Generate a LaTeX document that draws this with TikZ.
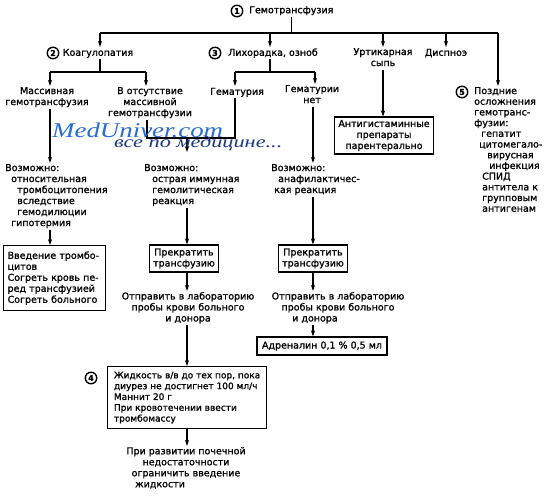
\documentclass[tikz,border=0pt]{standalone}
\usepackage{fontspec}
\setmainfont{DejaVu Sans}[RawFeature={embolden=1.2}]
\newfontfamily\wmfont{Liberation Serif}
\usetikzlibrary{arrows.meta}
\definecolor{wmblue}{RGB}{40,110,210}
\definecolor{wmnavy}{RGB}{30,55,130}
\newcommand\fs{\fontsize{9.5}{11}\selectfont}
\begin{document}
\begin{tikzpicture}[x=1pt,y=-1pt,
  txt/.style={inner sep=0pt, font=\fs, execute at begin node=\strut},
  ln/.style={line width=1.1pt},
  arr/.style={line width=1.1pt, -{Stealth[length=6pt,width=4.2pt]}, shorten >=1pt},
  arrb/.style={line width=1.1pt, -{Stealth[length=6pt,width=4.2pt]}},
  num/.style={circle, draw, line width=1.4pt, inner sep=0pt, minimum size=11.5pt, font=\bfseries\fontsize{8}{8}\selectfont},
  boxn/.style={draw, line width=1.2pt, font=\fs, inner xsep=4pt, inner ysep=3pt},
  wm/.style={inner sep=0pt, anchor=base west}]
\useasboundingbox (0,0) rectangle (550,496);
\fill[white] (0,0) rectangle (550,496);

% ---- top
\node[num] (n1) at (237,11) {1};
\node[txt, anchor=west] (gt) at (249,11) {Гемотрансфузия};
\coordinate (bL) at (100,33);
\coordinate (bR) at (498,33);
\coordinate (bLih) at (270,33);
\coordinate (bUrt) at (383,33);
\coordinate (bDisp) at (446,33);
\draw[ln] (gt.south) -- (gt.south |- bL);
\draw[ln] (bL) -- (bR);

% ---- level 2 nodes
\node[num] (n2) at (53,53) {2};
\node[txt, anchor=north] (koag) at (98,47.9) {Коагулопатия};
\node[num] (n3) at (215,53) {3};
\node[txt, anchor=north] (lih) at (273,47.9) {Лихорадка, озноб};
\node[txt, anchor=north, align=center] (urt) at (383,47.9) {Уртикарная\\сыпь};
\node[txt, anchor=north] (disp) at (446,47.9) {Диспноэ};
\node[num] (n5) at (462,92) {5};
\node[txt, anchor=north west, align=left, font=\fontsize{9.5}{10.7}\selectfont] (pozd) at (474,86.9)
  {Поздние\\осложнения\\гемотранс-\\фузии:\\\hspace*{7pt}гепатит\\\hspace*{5pt}цитомегало-\\\hspace*{13pt}вирусная\\\hspace*{15pt}инфекция\\\hspace*{8pt}СПИД\\\hspace*{8pt}антитела к\\\hspace*{8pt}групповым\\\hspace*{8pt}антигенам};

\draw[arr] (bL) -- (bL |- koag.north);
\draw[arr] (bLih) -- (bLih |- lih.north);
\draw[arr] (bUrt) -- (bUrt |- urt.north);
\draw[arr] (bDisp) -- (bDisp |- disp.north);
\draw[arr] (bR) -- (bR |- pozd.north);

% ---- coagulopathy branch
\coordinate (k0) at (100,72);
\coordinate (kL) at (50,72);
\coordinate (kR) at (146,72);
\node[txt, anchor=north, align=center] (mass) at (47,86.9) {Массивная\\гемотрансфузия};
\node[txt, anchor=north, align=center] (otsut) at (150,86.9) {В отсутствие\\массивной\\гемотрансфузии};
\draw[ln] (k0 |- koag.south) -- (k0);
\draw[ln] (kL) -- (kR);
\draw[arr] (kL) -- (kL |- mass.north);
\draw[arr] (kR) -- (kR |- otsut.north);

\node[txt, anchor=north west, align=left] (voz1) at (5,163.9)
  {Возможно:\\\hspace*{6pt}относительная\\\hspace*{12pt}тромбоцитопения\\\hspace*{12pt}вследствие\\\hspace*{12pt}гемодилюции\\\hspace*{6pt}гипотермия};
\draw[arr] (kL |- mass.south) -- (kL |- voz1.north);
\node[boxn, anchor=north west, text width=94pt, align=left, minimum height=65pt] (box1) at (3,245)
  {Введение тромбо-\\цитов\\Согреть кровь пе-\\ред трансфузией\\Согреть больного};
\draw[arrb] (kL |- voz1.south) -- (kL |- box1.north);

% ---- fever branch
\coordinate (l0) at (270,72);
\coordinate (lL) at (235,72);
\coordinate (lR) at (315,72);
\node[txt, anchor=north] (gem) at (237,86.9) {Гематурия};
\node[txt, anchor=north, align=center] (gemnet) at (312,84.9) {Гематурии\\нет};
\draw[ln] (l0 |- lih.south) -- (l0);
\draw[ln] (lL) -- (lR);
\draw[arr] (lL) -- (lL |- gem.north);
\draw[arr] (lR) -- (lR |- gemnet.north);

\coordinate (g1) at (235,138);
\coordinate (g2) at (147,138);
\coordinate (g3) at (187,138);
\draw[ln] (g1 |- gem.south) -- (g1) -- (g2) -- (g2 |- otsut.south);

\node[txt, anchor=north west, align=left] (voz2) at (144,163.9)
  {Возможно:\\\hspace*{8pt}острая иммунная\\\hspace*{8pt}гемолитическая\\\hspace*{8pt}реакция};
\draw[arrb] (g3) -- (g3 |- 0,152);
\node[boxn, align=center, minimum width=66pt, minimum height=27pt] (box2) at (184,258.5) {Прекратить\\трансфузию};
\draw[arrb] (g3 |- voz2.south) -- (g3 |- box2.north);
\node[txt, anchor=north, align=center] (otpr1) at (188,291.9) {Отправить в лабораторию\\пробы крови больного\\и донора};
\draw[arr] (g3 |- box2.south) -- (g3 |- otpr1.north);
\node[num] (n4) at (91,378) {4};
\node[boxn, anchor=north west, align=left, minimum width=159pt, minimum height=62pt, inner xsep=3pt, font=\fontsize{9}{10.8}\selectfont] (box4) at (107,366)
  {Жидкость в/в до тех пор, пока\\диурез не достигнет 100 мл/ч\\Маннит 20 г\\При кровотечении ввести\\тромбомассу};
\draw[arrb] (g3 |- otpr1.south) -- (g3 |- box4.north);
\node[txt, anchor=north, align=center] (fin) at (186,446.9) {При развитии почечной\\недостаточности\\ограничить введение\\жидкости\hspace*{52pt}};
\draw[arr] (g3 |- box4.south) -- (g3 |- fin.north);

% ---- no hematuria branch
\coordinate (r0) at (313,72);
\node[txt, anchor=north west, align=left] (voz3) at (271,163.9)
  {Возможно:\\\hspace*{7pt}анафилактичес-\\\hspace*{3pt}кая реакция};
\draw[arr] (r0 |- gemnet.south) -- (r0 |- voz3.north);
\node[boxn, align=center, minimum width=66pt, minimum height=27pt] (box3) at (313,258.5) {Прекратить\\трансфузию};
\draw[arrb] (r0 |- voz3.south) -- (r0 |- box3.north);
\node[txt, anchor=north, align=center] (otpr2) at (338,291.9) {Отправить в лабораторию\\пробы крови больного\\и донора\hspace*{46pt}};
\draw[arr] (r0 |- box3.south) -- (r0 |- otpr2.north);
\node[boxn, align=center, minimum width=130pt, minimum height=18pt] (adr) at (322,346) {Адреналин 0,1 \% 0,5 мл};
\draw[arrb] (r0 |- otpr2.south) -- (r0 |- adr.north);

% ---- urticaria
\node[boxn, align=center, minimum width=88pt, minimum height=35pt] (antih) at (384,135.5) {Антигистаминные\\препараты\\парентерально};
\draw[arrb] (bUrt |- urt.south) -- (bUrt |- antih.north);

% ---- watermark
\node[wm, text=wmblue, font=\wmfont\itshape\fontsize{21}{21}\selectfont] (wm1) at (52,137) {\scalebox{1.28}[1]{MedUniver.com}};
\node[wm, text=wmnavy, font=\wmfont\itshape\fontsize{16.5}{16.5}\selectfont] (wm2) at (114,147) {\scalebox{1.35}[1]{все по медицине...}};
\end{tikzpicture}
\end{document}
